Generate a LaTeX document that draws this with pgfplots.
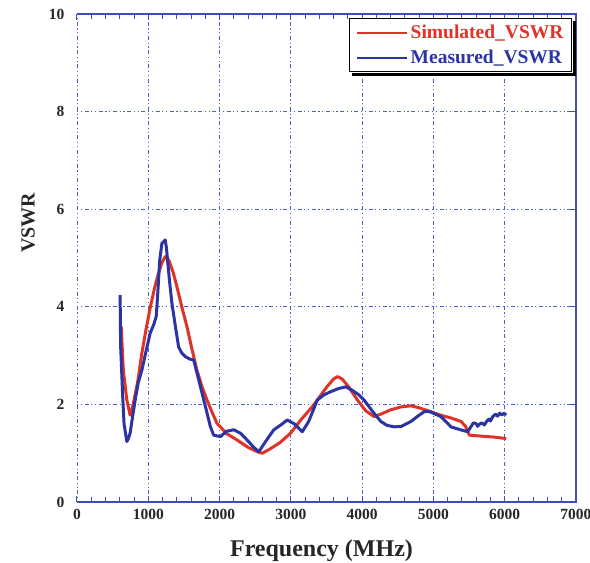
\documentclass[border=0pt]{standalone}
\usepackage{fontspec}
\setmainfont{Liberation Serif}
\usepackage{pgfplots}
\pgfplotsset{compat=1.18}
\definecolor{simred}{RGB}{222,52,40}
\definecolor{measblue}{RGB}{42,52,165}
\definecolor{spine}{RGB}{62,78,178}
\definecolor{gridblue}{RGB}{75,95,205}

\pgfplotstableread{
f v
620 3.60
650 2.70
699 2.09
745 1.78
780 1.95
850 2.45
910 3.05
970 3.55
1027 3.98
1090 4.40
1144 4.69
1190 4.90
1238 5.03
1290 4.95
1350 4.70
1402 4.41
1470 4.00
1543 3.59
1610 3.15
1683 2.70
1750 2.38
1824 2.09
1900 1.82
1965 1.61
2100 1.40
2246 1.27
2400 1.12
2527 1.03
2600 1.00
2700 1.08
2850 1.22
2996 1.41
3150 1.70
3300 1.95
3371 2.09
3500 2.35
3600 2.52
3652 2.57
3720 2.52
3800 2.38
3934 2.09
4050 1.87
4168 1.75
4262 1.80
4402 1.89
4550 1.95
4684 1.97
4800 1.93
4965 1.85
5100 1.78
5250 1.72
5387 1.65
5450 1.55
5504 1.37
5668 1.35
5850 1.33
6020 1.30
}\simdata

\pgfplotstableread{
f v
605 4.24
612 3.20
640 2.20
660 1.60
699 1.24
720 1.30
745 1.41
780 1.75
816 2.09
860 2.45
910 2.70
970 3.10
1027 3.46
1080 3.65
1111 3.80
1130 4.20
1160 4.95
1191 5.30
1238 5.37
1255 5.20
1270 4.96
1300 4.50
1332 4.07
1380 3.60
1425 3.18
1470 3.05
1519 2.98
1580 2.93
1636 2.91
1700 2.55
1754 2.23
1820 1.85
1870 1.55
1917 1.37
2011 1.34
2100 1.45
2199 1.48
2293 1.41
2400 1.25
2480 1.12
2550 1.03
2650 1.25
2761 1.48
2860 1.58
2949 1.68
3050 1.60
3160 1.44
3250 1.65
3371 2.09
3470 2.20
3558 2.26
3660 2.32
3769 2.36
3850 2.30
3950 2.20
4027 2.09
4150 1.85
4262 1.65
4350 1.57
4450 1.54
4550 1.55
4684 1.65
4800 1.78
4871 1.85
4950 1.85
5105 1.75
5246 1.54
5380 1.48
5480 1.44
5530 1.55
5560 1.62
5597 1.61
5620 1.55
5650 1.60
5680 1.62
5715 1.58
5750 1.66
5780 1.70
5800 1.66
5832 1.75
5870 1.80
5900 1.76
5930 1.82
5960 1.78
5990 1.82
6020 1.78
}\measdata

\begin{document}
\begin{tikzpicture}
\useasboundingbox (-77pt,-61pt) rectangle (513pt,502pt);
\begin{axis}[
  at={(0pt,0pt)}, anchor=south west,
  scale only axis, width=499pt, height=488pt,
  xmin=0, xmax=7000, ymin=0, ymax=10,
  xtick={0,1000,...,7000}, ytick={0,2,...,10},
  minor x tick num=4,
  xtick pos=both, ytick pos=right, yticklabel pos=left,
  tick align=inside,
  major tick length=6pt, minor tick length=5pt,
  every tick/.style={spine, line width=1pt},
  scaled x ticks=false,
  /pgf/number format/1000 sep={},
  /pgf/number format/assume math mode=true,
  tick label style={font=\fontsize{15.5}{15.5}\selectfont\bfseries, text=black!85},
  xticklabel style={yshift=-4pt},
  yticklabel style={xshift=-9pt},
  axis line style={draw=none},
  grid=major,
  grid style={gridblue, line width=0.9pt, dash pattern=on 1.2pt off 2.6pt on 1.2pt off 2.6pt on 4pt off 2.6pt},
  xlabel={Frequency (MHz)},
  ylabel={VSWR},
  xlabel style={at={(axis description cs:0.49,-0.1)}, anchor=center, font=\fontsize{24}{24}\selectfont\bfseries, text=black!85},
  ylabel style={at={(axis description cs:-0.098,0.572)}, anchor=center, font=\fontsize{20}{20}\selectfont\bfseries, text=black!85},
  legend cell align=left,
  legend style={name=leg, at={(axis description cs:0.992,0.991)}, anchor=north east,
    draw=black, line width=1pt, fill=white,
    font=\fontsize{19.5}{21}\selectfont\bfseries,
    inner xsep=6pt, inner ysep=4.5pt, row sep=6pt},
  legend image code/.code={\draw[#1, line width=2.8pt] (0pt,0pt) -- (50pt,0pt);},
]
\addplot[simred, line width=3pt, line join=round] table[x=f, y=v] {\simdata};
\addlegendentry{\textcolor{simred}{Simulated\_VSWR}}
\addplot[measblue, line width=3pt, line join=round] table[x=f, y=v] {\measdata};
\addlegendentry{\textcolor{measblue}{Measured\_VSWR}}
\end{axis}
\draw[spine, line width=1.3pt] (0pt,0pt) -- (499pt,0pt) -- (499pt,488pt) -- (0pt,488pt);
\fill[black] ([xshift=3pt,yshift=-3.5pt]leg.south west) rectangle ([xshift=3.5pt,yshift=-0.5pt]leg.south east);
\fill[black] ([xshift=0.5pt,yshift=-3pt]leg.north east) rectangle ([xshift=3.5pt,yshift=-3.5pt]leg.south east);
\end{tikzpicture}
\end{document}
